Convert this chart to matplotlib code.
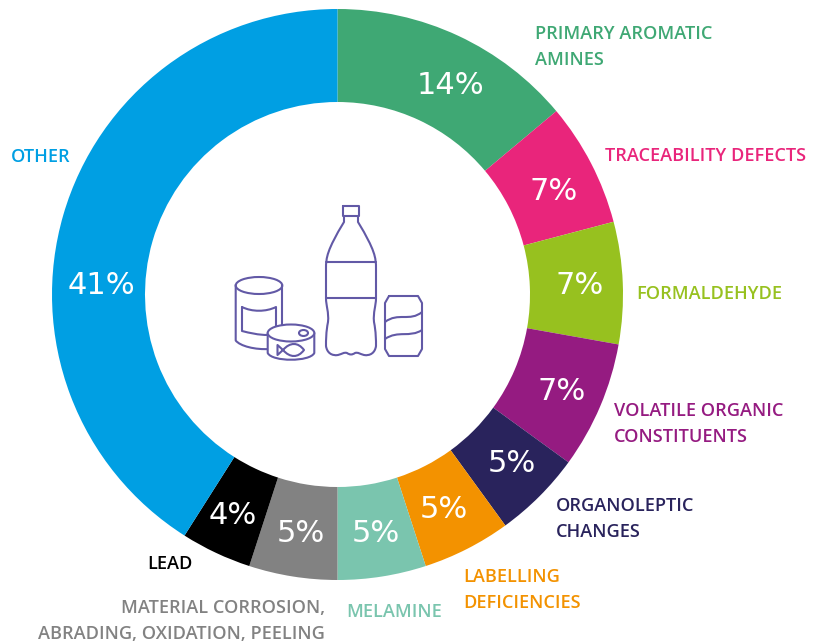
import matplotlib
matplotlib.use("Agg")
import matplotlib.pyplot as plt
from matplotlib.patches import Ellipse, PathPatch
from matplotlib.path import Path

categories = ["PRIMARY AROMATIC\nAMINES", "TRACEABILITY DEFECTS", "FORMALDEHYDE",
              "VOLATILE ORGANIC\nCONSTITUENTS", "ORGANOLEPTIC\nCHANGES", "LABELLING\nDEFICIENCIES",
              "MELAMINE", "MATERIAL CORROSION,\nABRADING, OXIDATION, PEELING", "LEAD", "OTHER"]
values = [13.9, 7.0, 6.9, 7.2, 5.0, 5.0, 5.0, 5.0, 4.0, 41.0]
labels = ["14%", "7%", "7%", "7%", "5%", "5%", "5%", "5%", "4%", "41%"]
colors = ["#3FA874", "#E9257B", "#97C11F", "#951B81", "#29235C", "#F39200",
          "#7AC5AE", "#828282", "#000000", "#009FE3"]

# Layout (pixel placement of the annotations)
label_x = [535, 605, 636, 614, 556, 463, 346, 325, 147, 11]
label_y = [47, 156, 294, 424, 519, 590, 612, 621, 564, 157]
label_ha = ["left", "left", "left", "left", "left", "left", "left", "right", "left", "left"]
pct_x = [450, 554, 580, 562, 512, 444, 376, 301, 233, 101]
pct_y = [85, 192, 286, 391, 463, 509, 534, 534, 516, 286]

plt.rcParams['font.family'] = ['Open Sans', 'DejaVu Sans']
fig = plt.figure(figsize=(8.16, 6.43), dpi=100)
ax = fig.add_axes([0, 0, 1, 1])

cx, cy, R = 337.5, 294.5, 285.5
ax.pie(values, startangle=270, counterclock=True, colors=colors, center=(cx, cy), radius=R,
       wedgeprops=dict(width=R - 192.5, linewidth=0), frame=False)

for c, x, y, ha, tc in zip(categories, label_x, label_y, label_ha, colors):
    ax.text(x, y, c, color=tc, fontsize=13.1, ha=ha, va="center", linespacing=1.55, fontweight=600)
for t, x, y in zip(labels, pct_x, pct_y):
    ax.text(x, y, t, color="white", fontsize=22, ha="center", va="center", family="DejaVu Sans")

ic = "#6259A6"
lw = 1.5
M, L, C = Path.MOVETO, Path.LINETO, Path.CURVE4

def shape(start, *segs, closed=False, fc="none", z=3):
    """Each seg is one point (line) or three points (bezier)."""
    v, k = [start], [M]
    for s in segs:
        if len(s) == 3:
            v += list(s); k += [C, C, C]
        else:
            v += [s[0]]; k += [L]
    if closed:
        v += [start]; k += [L]
    ax.add_patch(PathPatch(Path(v, k), fc=fc, ec=ic, lw=lw, zorder=z, capstyle="round", joinstyle="round"))

# big can
shape((235.7, 285), [(235.7, 340.5)], [(240, 346), (255, 350), (270, 349)])
shape((282.3, 285), [(282.3, 326)])
ax.add_patch(Ellipse((259, 285.5), 46.6, 17, fc="none", ec=ic, lw=lw, zorder=3))
shape((242, 307), [(252, 312), (266, 312), (276, 307)], [(276, 328)])
shape((242, 307), [(242, 331)], [(250, 333), (258, 335), (268, 335)])

# fish tin
shape((267.7, 333), [(267.7, 353)], [(272, 362), (310, 362), (314.3, 353)], [(314.3, 333)], fc="white", z=4)
ax.add_patch(Ellipse((291, 333), 46.6, 17, fc="white", ec=ic, lw=lw, zorder=4))
ax.add_patch(Ellipse((303.5, 333), 9, 6, fc="none", ec=ic, lw=lw, zorder=5))
shape((283, 350), [(290, 342), (298, 342), (304, 350)], [(298, 358), (290, 358), (283, 350)], z=5)
shape((283, 350), [(277.5, 345)], [(277.5, 355)], closed=True, z=5)

# bottle
shape((343, 206), [(359, 206)], [(359, 216)], [(343, 216)], closed=True)
shape((344, 216), [(344, 222)], [(327, 250), (326, 258), (326, 268)],
      [(326, 298)], [(326, 306), (329, 312), (328, 322)], [(326, 332), (326, 340), (326, 346)],
      [(327, 353), (332, 356), (338, 355)], [(342, 354), (344, 352), (347, 353)],
      [(350, 355), (352, 355), (355, 353)], [(358, 352), (360, 354), (364, 355)],
      [(370, 356), (375, 353), (376, 346)], [(376, 340), (376, 332), (374, 322)],
      [(373, 312), (376, 306), (376, 298)], [(376, 268)], [(376, 258), (375, 250), (358, 222)], [(358, 216)])
shape((326, 262), [(376, 262)])
shape((326, 298), [(376, 298)])

# soda can
shape((389, 296), [(418, 296)], [(422, 303)], [(422, 349)], [(418, 356)], [(389, 356)],
      [(385, 349)], [(385, 303)], closed=True)
shape((385, 322), [(398, 312), (410, 322), (422, 312)])
shape((385, 339), [(398, 330), (410, 338), (422, 330)])

ax.set_xlim(0, 816)
ax.set_ylim(643, 0)
ax.set_aspect("auto")
ax.axis("off")
fig.savefig("out.png", dpi=100)
